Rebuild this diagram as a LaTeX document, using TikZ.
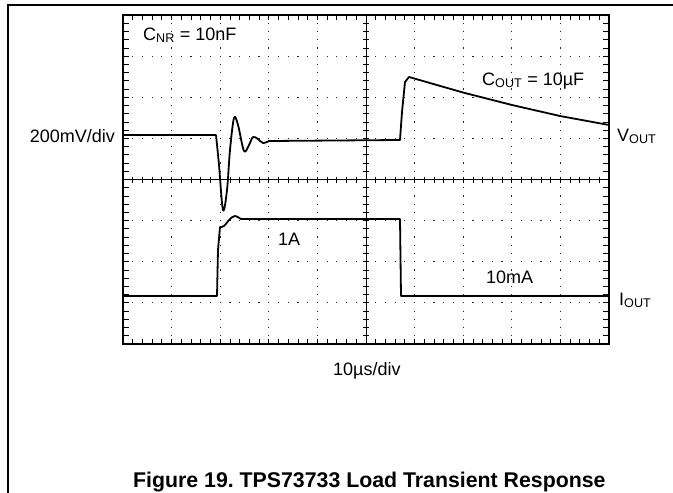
\documentclass[tikz,border=0pt]{standalone}
\usepackage{fontspec}
\setmainfont{Liberation Sans}
\usetikzlibrary{positioning}
\frenchspacing

\begin{document}
\begin{tikzpicture}[
                x=1pt, y=-1pt,
                border/.style={line width=2pt},
                frameline/.style={line width=1.2pt},
                tick/.style={line width=0.8pt},
                hdots/.style={line width=1.2pt, black!85, dash pattern=on 1.2pt off 8.52pt, dash phase=0.6pt},
                vdots/.style={line width=1.2pt, black!85, dash pattern=on 1.2pt off 7.025pt, dash phase=0.6pt},
                trace/.style={line width=1.8pt, line join=round},
                lbl/.style={inner sep=0pt, anchor=base west, font=\fontsize{18}{20}\selectfont},
                every node/.append style={inner sep=0pt}
            ]
                \useasboundingbox (0,0) rectangle (673,493);
                % outer frame
                \draw[frameline] (8,493) -- (8,5) -- (673,5);
                % graticule
                \coordinate (NW) at (123,15);
                \coordinate (SE) at (609,344);
                \foreach \i in {1,2,3,4,6,7,8,9}
                    \draw[vdots] ({123+48.6*\i},15) -- ({123+48.6*\i},344);
                \foreach \j in {1,2,3,5,6,7}
                    \draw[hdots] (123,{15+41.125*\j}) -- (609,{15+41.125*\j});
                \draw[tick] (366,15) -- (366,344);
                \draw[tick] (123,179.5) -- (609,179.5);
                % minor ticks
                \foreach \k in {1,...,49} {
                    \draw[tick] ({123+9.72*\k},15) -- ++(0,5);
                    \draw[tick] ({123+9.72*\k},344) -- ++(0,-5);
                    \draw[tick] ({123+9.72*\k},176.5) -- ++(0,6);
                }
                \foreach \k in {1,...,39} {
                    \draw[tick] (123,{15+8.225*\k}) -- ++(6,0);
                    \draw[tick] (609,{15+8.225*\k}) -- ++(-6,0);
                    \draw[tick] (363,{15+8.225*\k}) -- ++(6,0);
                }
                \draw[border] (NW) rectangle (SE);
                % V_OUT trace
                \draw[trace] (123,135) -- (216,135)
                    -- plot[smooth, tension=0.55] coordinates {(216,135) (219,165) (223,210) (227,190) (230,150) (234,118) (238,125) (244,151) (249,145) (253,137) (258,139) (263,143) (269,141)}
                    -- (400,140) -- (402,112) -- (405,82) -- (409,77)
                    -- (463,92.5) -- (512,105) -- (560,116) -- (609,125);
                % I_OUT trace
                \draw[trace] (123,296) -- (217,296) -- (218,250) -- (220,227)
                    -- plot[smooth, tension=0.5] coordinates {(220,227) (224,226) (230,219) (235,216) (241,219)}
                    -- (400,219) -- (401,296) -- (609,296);
                % labels
                \node[lbl] (cnr) at (143,40) {C\textsubscript{NR} = 10nF};
                \node[lbl, anchor=base east] (vdiv) at (115,142) {200mV/div};
                \node[lbl] (vout) at (617,141) {V\textsubscript{OUT}};
                \node[lbl] (cout) at (482,85) {C\textsubscript{OUT} = 10µF};
                \node[lbl] (amp) at (278,245) {1A};
                \node[lbl] (milli) at (486,283) {10mA};
                \node[lbl] (iout) at (619,305) {I\textsubscript{OUT}};
                \node[lbl] (tdiv) at (333,375) {10µs/div};
                \node[lbl, font=\bfseries\fontsize{21.3}{24}\selectfont] (caption) at (133,487)
                    {Figure 19. TPS73733 Load Transient Response};
            \end{tikzpicture}
\end{document}
